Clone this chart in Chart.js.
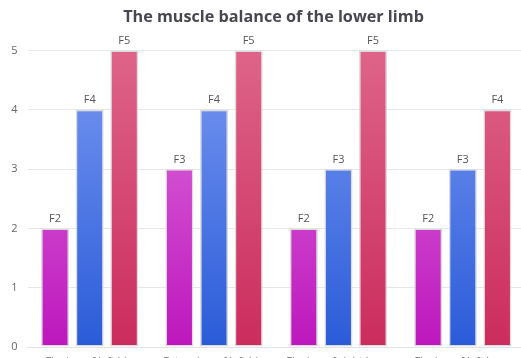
<!DOCTYPE html>
<html><head><meta charset="utf-8">
<script src="https://cdn.jsdelivr.net/npm/chart.js@4"></script>
<style>
html,body{margin:0;padding:0;background:#fff;overflow:hidden;}
#wrap{width:525px;height:375px;}
</style></head>
<body><div id="wrap"><canvas id="c" width="525" height="375"></canvas></div>
<script>
const categories = ["Flexion of left hip", "Extension of left hip", "Flexion of right knee", "Flexion of left knee"];
const seriesNames = ["Series 1", "Series 2", "Series 3"];
const series1 = [2, 3, 2, 2];
const series2 = [4, 4, 3, 3];
const series3 = [5, 5, 5, 4];
const pointLabels1 = ["F2", "F3", "F2", "F2"];
const pointLabels2 = ["F4", "F4", "F3", "F3"];
const pointLabels3 = ["F5", "F5", "F5", "F4"];
const yTicks = [0, 1, 2, 3, 4, 5];

const FONT = "'Open Sans', 'Noto Sans', sans-serif";

function grad(top, bottom) {
  return function(ctx) {
    const ch = ctx.chart;
    const a = ch.chartArea;
    if (!a) return bottom;
    const g = ch.ctx.createLinearGradient(0, a.top, 0, a.bottom);
    g.addColorStop(0, top);
    g.addColorStop(1, bottom);
    return g;
  };
}

const labelPlugin = {
  id: 'barLabels',
  afterLayout(chart) {
    if (chart.titleBlock) chart.titleBlock.left = 22;
  },
  afterDatasetsDraw(chart) {
    const ctx = chart.ctx;
    ctx.save();
    ctx.font = "11px " + FONT;
    ctx.fillStyle = '#555';
    ctx.textAlign = 'center';
    ctx.textBaseline = 'bottom';
    chart.data.datasets.forEach((ds, i) => {
      const meta = chart.getDatasetMeta(i);
      meta.data.forEach((bar, j) => {
        ctx.fillText(ds.pointLabels[j], bar.x, bar.y - 4);
      });
    });
    ctx.restore();
  }
};

new Chart(document.getElementById('c'), {
  type: 'bar',
  data: {
    labels: categories,
    datasets: [
      { label: seriesNames[0], data: series1, pointLabels: pointLabels1,
        backgroundColor: grad('#de72dc', '#bd17bd') },
      { label: seriesNames[1], data: series2, pointLabels: pointLabels2,
        backgroundColor: grad('#7898f2', '#2a5bd8') },
      { label: seriesNames[2], data: series3, pointLabels: pointLabels3,
        backgroundColor: grad('#de6489', '#cb2c5d') }
    ].map(d => Object.assign(d, {
      borderColor: 'rgba(215,215,215,0.9)', borderWidth: 1.5,
      categoryPercentage: 0.835, barPercentage: 0.81, borderSkipped: false
    }))
  },
  options: {
    responsive: false,
    animation: false,
    layout: { padding: 0 },
    plugins: {
      legend: { display: false },
      tooltip: { enabled: false },
      title: {
        display: true,
        text: 'The muscle balance of the lower limb',
        color: '#474752',
        font: { family: FONT, size: 16.2, weight: 'bold' },
        padding: { top: 8, bottom: 23 }
      }
    },
    scales: {
      x: {
        grid: { display: false, drawTicks: false },
        border: { display: true, color: '#e2e2e2' },
        ticks: { color: '#666', font: { family: FONT, size: 11 }, padding: 8, maxRotation: 0, autoSkip: false },
        afterFit(s) { s.height = 28; }
      },
      y: {
        min: 0, max: 5,
        afterBuildTicks(s) { s.ticks = yTicks.map(v => ({ value: v })); },
        grid: { color: '#e6e6e6', drawTicks: false },
        border: { display: false },
        ticks: { color: '#666', font: { family: FONT, size: 11 }, padding: 10 },
        afterFit(s) { s.width = 27.5; }
      }
    }
  },
  plugins: [labelPlugin]
});
</script>
</body></html>
